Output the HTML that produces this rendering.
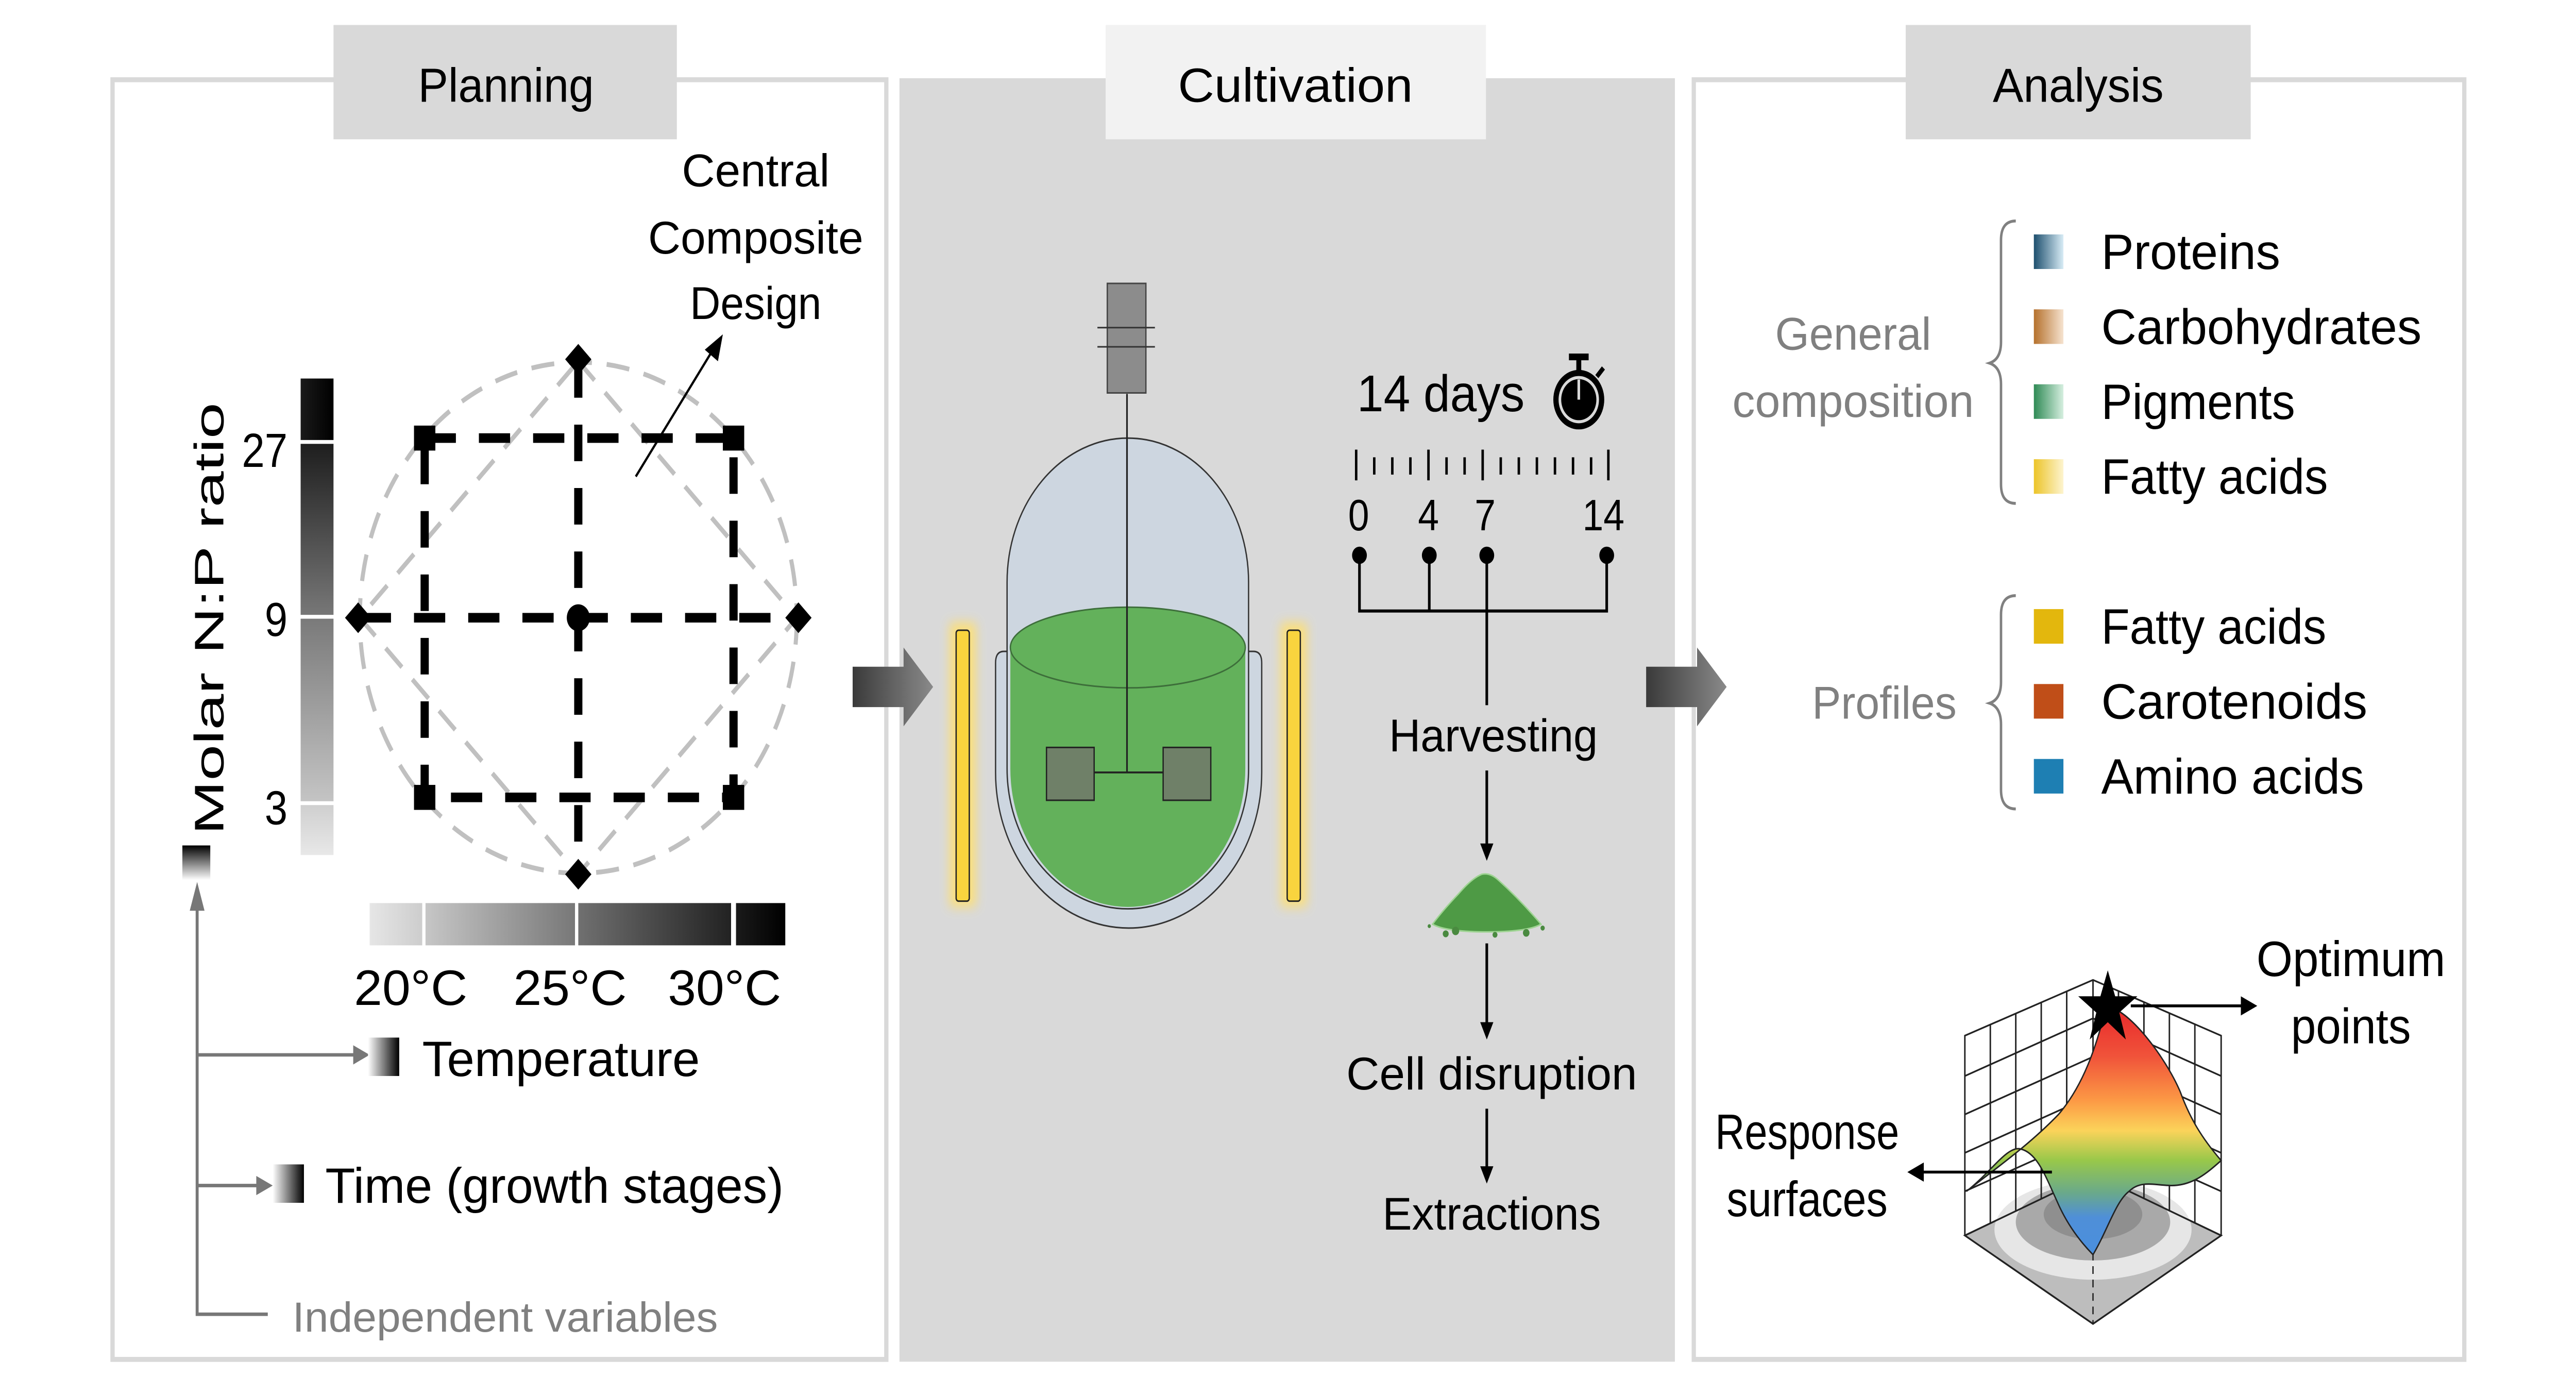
<!DOCTYPE html>
<html><head><meta charset="utf-8"><style>html,body{margin:0;padding:0;background:#fff;overflow:hidden;width:100%;height:100%}svg{display:block;position:fixed;left:0;top:0;width:100vw;height:100vh}text{font-family:"Liberation Sans",sans-serif}</style></head>
<body>
<svg xmlns="http://www.w3.org/2000/svg" viewBox="0 0 1568 725.5" preserveAspectRatio="none">
<defs>
<linearGradient id="gv" x1="0" y1="1" x2="0" y2="0"><stop offset="0" stop-color="#fff"/><stop offset="1" stop-color="#000"/></linearGradient>
<linearGradient id="vb1" x1="0" y1="1" x2="0" y2="0"><stop offset="0" stop-color="#777"/><stop offset="1" stop-color="#1e1e1e"/></linearGradient>
<linearGradient id="vb2" x1="0" y1="1" x2="0" y2="0"><stop offset="0" stop-color="#c4c4c4"/><stop offset="1" stop-color="#7a7a7a"/></linearGradient>
<linearGradient id="vb3" x1="0" y1="1" x2="0" y2="0"><stop offset="0" stop-color="#e8e8e8"/><stop offset="1" stop-color="#cfcfcf"/></linearGradient>
<linearGradient id="hb1" x1="0" x2="1"><stop offset="0" stop-color="#e6e6e6"/><stop offset="1" stop-color="#cdcdcd"/></linearGradient>
<linearGradient id="hb2" x1="0" x2="1"><stop offset="0" stop-color="#c6c6c6"/><stop offset="1" stop-color="#787878"/></linearGradient>
<linearGradient id="hb3" x1="0" x2="1"><stop offset="0" stop-color="#707070"/><stop offset="1" stop-color="#222"/></linearGradient>
<linearGradient id="hb4" x1="0" x2="1"><stop offset="0" stop-color="#1a1a1a"/><stop offset="1" stop-color="#000"/></linearGradient>
<linearGradient id="gh" x1="0" x2="1"><stop offset="0" stop-color="#fff"/><stop offset="1" stop-color="#000"/></linearGradient>
<linearGradient id="ga" x1="0" x2="1"><stop offset="0" stop-color="#3a3a3a"/><stop offset="1" stop-color="#8a8a8a"/></linearGradient>
<linearGradient id="cp" x1="0" x2="1"><stop offset="0" stop-color="#1d4f6e"/><stop offset="1" stop-color="#d8ecf6"/></linearGradient>
<linearGradient id="cc" x1="0" x2="1"><stop offset="0" stop-color="#b5702c"/><stop offset="1" stop-color="#f6e3d0"/></linearGradient>
<linearGradient id="cg" x1="0" x2="1"><stop offset="0" stop-color="#2f8a55"/><stop offset="1" stop-color="#d6efe0"/></linearGradient>
<linearGradient id="cy" x1="0" x2="1"><stop offset="0" stop-color="#ecc428"/><stop offset="1" stop-color="#fdf4cf"/></linearGradient>
<linearGradient id="rs" x1="0" y1="0" x2="0" y2="1"><stop offset="0" stop-color="#e8272b"/><stop offset="0.2" stop-color="#f0533a"/><stop offset="0.38" stop-color="#fc9a45"/><stop offset="0.5" stop-color="#fbd35a"/><stop offset="0.62" stop-color="#98c84a"/><stop offset="0.75" stop-color="#6aa98a"/><stop offset="0.85" stop-color="#4f8fd8"/><stop offset="1" stop-color="#4a8fdd"/></linearGradient>
<filter id="glow" x="-2" y="-0.2" width="5" height="1.4"><feGaussianBlur stdDeviation="3"/></filter>
</defs>

<rect x="68.5" y="41.5" width="471" height="666" fill="none" stroke="#d9d9d9" stroke-width="2.6"/>
<rect x="547.5" y="40.7" width="472" height="668" fill="#d9d9d9"/>
<rect x="1031" y="41.5" width="469" height="666" fill="none" stroke="#d9d9d9" stroke-width="2.6"/>
<rect x="203" y="13" width="209" height="59.5" fill="#d9d9d9"/>
<rect x="673" y="13" width="231.5" height="59.5" fill="#f2f2f2"/>
<rect x="1160" y="13" width="210" height="59.5" fill="#d9d9d9"/>
<text x="308" y="53" font-size="25" text-anchor="middle" textLength="107" lengthAdjust="spacingAndGlyphs">Planning</text>
<text x="788.5" y="53" font-size="25" text-anchor="middle" textLength="143" lengthAdjust="spacingAndGlyphs">Cultivation</text>
<text x="1265" y="53" font-size="25" text-anchor="middle" textLength="104" lengthAdjust="spacingAndGlyphs">Analysis</text>

<path d="M519,347 L550,347 L550,337 L568,357.5 L550,378 L550,368 L519,368 Z" fill="url(#ga)"/>
<path d="M1002,347 L1033,347 L1033,337 L1051,357.5 L1033,378 L1033,368 L1002,368 Z" fill="url(#ga)"/>

<circle cx="352" cy="321.5" r="133" fill="none" stroke="#c0c0c0" stroke-width="2.5" stroke-dasharray="14 9"/>
<path d="M352,188 L485,321.5 L352,455 L219,321.5 Z" fill="none" stroke="#c0c0c0" stroke-width="2.5" stroke-dasharray="14 9"/>
<g stroke="#000" stroke-width="5" stroke-dasharray="19 14" fill="none">
<rect x="258.5" y="228" width="188" height="187"/>
<line x1="219" y1="321.5" x2="485" y2="321.5"/>
<line x1="352" y1="188" x2="352" y2="455"/>
</g>
<g fill="#000">
<rect x="252" y="221.5" width="13" height="13"/><rect x="440" y="221.5" width="13" height="13"/>
<rect x="252" y="408.5" width="13" height="13"/><rect x="440" y="408.5" width="13" height="13"/>
<path d="M352,179 L360,187 L352,195 L344,187 Z"/><path d="M352,447 L360,455 L352,463 L344,455 Z"/>
<path d="M210,321.5 L218,313.5 L226,321.5 L218,329.5 Z"/><path d="M478,321.5 L486,313.5 L494,321.5 L486,329.5 Z"/>
<circle cx="352" cy="321.5" r="7"/>
</g>
<line x1="387" y1="248" x2="434" y2="182" stroke="#000" stroke-width="1.3"/>
<path d="M440,174 L437,188 L429,182 Z" fill="#000"/>
<text x="460" y="97" font-size="24" text-anchor="middle" textLength="90" lengthAdjust="spacingAndGlyphs">Central</text>
<text x="460" y="132" font-size="24" text-anchor="middle" textLength="131" lengthAdjust="spacingAndGlyphs">Composite</text>
<text x="460" y="166" font-size="24" text-anchor="middle" textLength="80" lengthAdjust="spacingAndGlyphs">Design</text>

<rect x="183" y="197" width="20" height="32" fill="url(#hb4)"/>
<rect x="183" y="231" width="20" height="89" fill="url(#vb1)"/>
<rect x="183" y="322" width="20" height="95" fill="url(#vb2)"/>
<rect x="183" y="419" width="20" height="26" fill="url(#vb3)"/>
<text x="175" y="243" font-size="25" text-anchor="end">27</text>
<text x="175" y="331" font-size="25" text-anchor="end">9</text>
<text x="175" y="429" font-size="25" text-anchor="end">3</text>
<text transform="translate(136,322) rotate(-90)" font-size="25" text-anchor="middle" textLength="225" lengthAdjust="spacingAndGlyphs">Molar N:P ratio</text>
<rect x="111" y="440" width="17" height="18" fill="url(#gv)"/>

<rect x="225" y="470" width="32" height="22" fill="url(#hb1)"/>
<rect x="259" y="470" width="91" height="22" fill="url(#hb2)"/>
<rect x="352" y="470" width="93" height="22" fill="url(#hb3)"/>
<rect x="448" y="470" width="30" height="22" fill="url(#hb4)"/>
<text x="250" y="523" font-size="26" text-anchor="middle" textLength="69" lengthAdjust="spacingAndGlyphs">20°C</text>
<text x="347" y="523" font-size="26" text-anchor="middle" textLength="69" lengthAdjust="spacingAndGlyphs">25°C</text>
<text x="441" y="523" font-size="26" text-anchor="middle" textLength="69" lengthAdjust="spacingAndGlyphs">30°C</text>

<g stroke="#777" stroke-width="1.8" fill="none">
<path d="M120,470 L120,684 L163,684"/>
<line x1="120" y1="549" x2="216" y2="549"/>
<line x1="120" y1="617" x2="158" y2="617"/>
</g>
<g fill="#777">
<path d="M120,459 L115.5,474 L124.5,474 Z"/>
<path d="M225,549 L215,544 L215,554 Z"/>
<path d="M166,617 L156,612 L156,622 Z"/>
</g>
<rect x="224" y="540" width="19" height="20" fill="url(#gh)"/>
<text x="257" y="560" font-size="26" textLength="169" lengthAdjust="spacingAndGlyphs">Temperature</text>
<rect x="166" y="606" width="19" height="20" fill="url(#gh)"/>
<text x="198" y="626" font-size="26" textLength="279" lengthAdjust="spacingAndGlyphs">Time (growth stages)</text>
<text x="178" y="693" font-size="22" fill="#808080" textLength="259" lengthAdjust="spacingAndGlyphs">Independent variables</text>

<rect x="578" y="324" width="16" height="148" fill="#ffe070" filter="url(#glow)" opacity="0.9"/>
<rect x="779.5" y="324" width="16" height="148" fill="#ffe070" filter="url(#glow)" opacity="0.9"/>
<rect x="582" y="328" width="8" height="141" rx="1.5" fill="#f9d43e" stroke="#222" stroke-width="0.8"/>
<rect x="783.5" y="328" width="8" height="141" rx="1.5" fill="#f9d43e" stroke="#222" stroke-width="0.8"/>
<path d="M606,345 Q606,339 611,339 L615,339 L615,400 A70,70 0 0 0 758,400 L758,339 L763,339 Q768,339 768,345 L768,402 A81,81 0 0 1 606,402 Z" fill="#cdd6e0" stroke="#333" stroke-width="0.8"/>
<path d="M613,303 A73.5,75 0 0 1 760,303 L760,400 A73.5,73 0 0 1 613,400 Z" fill="#cdd6e0" stroke="#333" stroke-width="0.8"/>
<path d="M615,337 L758,337 L758,400 A71.5,72 0 0 1 615,400 Z" fill="#63b15b"/>
<ellipse cx="686.5" cy="337" rx="71.5" ry="21" fill="#63b15b" stroke="#3d6e3a" stroke-width="0.8"/>
<line x1="686" y1="205" x2="686" y2="402" stroke="#222" stroke-width="1"/>
<line x1="666" y1="402" x2="708" y2="402" stroke="#222" stroke-width="1"/>
<rect x="637" y="389" width="29" height="27.5" fill="#6f8068" stroke="#222" stroke-width="0.8"/>
<rect x="708" y="389" width="29" height="27.5" fill="#6f8068" stroke="#222" stroke-width="0.8"/>
<rect x="674" y="147.5" width="23.5" height="57" fill="#8c8c8c" stroke="#444" stroke-width="0.8"/>
<line x1="668" y1="170.5" x2="703" y2="170.5" stroke="#333" stroke-width="0.8"/>
<line x1="668" y1="180.5" x2="703" y2="180.5" stroke="#333" stroke-width="0.8"/>

<text x="826" y="214" font-size="27" textLength="102" lengthAdjust="spacingAndGlyphs">14 days</text>
<g>
<circle cx="961" cy="208" r="15.5" fill="#000"/>
<circle cx="961" cy="208" r="11.5" fill="none" stroke="#d9d9d9" stroke-width="1.6"/>
<line x1="961" y1="197.5" x2="961" y2="208" stroke="#d9d9d9" stroke-width="1.6"/>
<rect x="955" y="184" width="12" height="3.5" fill="#000"/>
<rect x="959.5" y="186" width="3" height="7" fill="#000"/>
<line x1="972" y1="196" x2="976" y2="191.5" stroke="#000" stroke-width="2.5"/>
</g>
<g stroke="#000" stroke-width="1.5">
<line x1="825.5" y1="234" x2="825.5" y2="250"/>
<line x1="836.5" y1="238" x2="836.5" y2="247"/>
<line x1="847.5" y1="238" x2="847.5" y2="247"/>
<line x1="858.5" y1="238" x2="858.5" y2="247"/>
<line x1="869.5" y1="234" x2="869.5" y2="250"/>
<line x1="880.5" y1="238" x2="880.5" y2="247"/>
<line x1="891.5" y1="238" x2="891.5" y2="247"/>
<line x1="902.5" y1="234" x2="902.5" y2="250"/>
<line x1="913.5" y1="238" x2="913.5" y2="247"/>
<line x1="924.5" y1="238" x2="924.5" y2="247"/>
<line x1="935.5" y1="238" x2="935.5" y2="247"/>
<line x1="946.5" y1="238" x2="946.5" y2="247"/>
<line x1="957.5" y1="238" x2="957.5" y2="247"/>
<line x1="968.5" y1="238" x2="968.5" y2="247"/>
<line x1="979" y1="234" x2="979" y2="250"/>
</g>
<text x="827" y="276" font-size="23" text-anchor="middle">0</text>
<text x="869.5" y="276" font-size="23" text-anchor="middle">4</text>
<text x="904" y="276" font-size="23" text-anchor="middle">7</text>
<text x="976" y="276" font-size="23" text-anchor="middle">14</text>
<g fill="#000"><circle cx="827.5" cy="289" r="4.5"/><circle cx="870" cy="289" r="4.5"/><circle cx="905" cy="289" r="4.5"/><circle cx="978" cy="289" r="4.5"/></g>
<g stroke="#000" stroke-width="1.6" fill="none">
<path d="M827.5,289 L827.5,318 L978,318 L978,289"/>
<line x1="870" y1="289" x2="870" y2="318"/>
<line x1="905" y1="289" x2="905" y2="367"/>
<line x1="905" y1="401" x2="905" y2="440"/>
<line x1="905" y1="491" x2="905" y2="532"/>
<line x1="905" y1="577" x2="905" y2="608"/>
</g>
<g fill="#000">
<path d="M905,448 L901,439 L909,439 Z"/>
<path d="M905,541 L901,532 L909,532 Z"/>
<path d="M905,616 L901,607 L909,607 Z"/>
</g>
<text x="909" y="391" font-size="24" text-anchor="middle" textLength="127" lengthAdjust="spacingAndGlyphs">Harvesting</text>
<text x="908" y="567" font-size="24" text-anchor="middle" textLength="177" lengthAdjust="spacingAndGlyphs">Cell disruption</text>
<text x="908" y="640" font-size="24" text-anchor="middle" textLength="133" lengthAdjust="spacingAndGlyphs">Extractions</text>
<path d="M872,481 Q878,474 888,465 Q896,457 902,455 Q907,454 912,458 Q925,468 938,481 Q930,485 905,485 Q880,485 872,481 Z" fill="#4e9a45" stroke="#9fd493" stroke-width="0.8"/>
<g fill="#4a8a40"><circle cx="880" cy="486" r="1.8"/><circle cx="886" cy="484.5" r="2.2"/><circle cx="910" cy="486.5" r="1.5"/><circle cx="929" cy="485.5" r="2"/><circle cx="939" cy="483" r="1.3"/><circle cx="870" cy="482" r="1"/></g>

<text x="1128" y="182" font-size="24" fill="#808080" text-anchor="middle" textLength="95" lengthAdjust="spacingAndGlyphs">General</text>
<text x="1128" y="217" font-size="24" fill="#808080" text-anchor="middle" textLength="147" lengthAdjust="spacingAndGlyphs">composition</text>
<text x="1147" y="374" font-size="24" fill="#808080" text-anchor="middle" textLength="88" lengthAdjust="spacingAndGlyphs">Profiles</text>
<g fill="none" stroke="#808080" stroke-width="1.5">
<path d="M1227,115 Q1218,115 1218,125 L1218,178 Q1218,187 1211,189 Q1218,191 1218,200 L1218,252 Q1218,262 1227,262"/>
<path d="M1227,310 Q1218,310 1218,320 L1218,355 Q1218,364 1211,366 Q1218,368 1218,377 L1218,411 Q1218,421 1227,421"/>
</g>
<rect x="1238" y="122" width="18" height="18" fill="url(#cp)"/>
<rect x="1238" y="161" width="18" height="18" fill="url(#cc)"/>
<rect x="1238" y="200" width="18" height="18" fill="url(#cg)"/>
<rect x="1238" y="239" width="18" height="18" fill="url(#cy)"/>
<rect x="1238" y="317" width="18" height="18" fill="#e3b70d"/>
<rect x="1238" y="356" width="18" height="18" fill="#c04e18"/>
<rect x="1238" y="395" width="18" height="18" fill="#1e7fb3"/>
<g font-size="26">
<text x="1279" y="140" textLength="109" lengthAdjust="spacingAndGlyphs">Proteins</text>
<text x="1279" y="179" textLength="195" lengthAdjust="spacingAndGlyphs">Carbohydrates</text>
<text x="1279" y="218" textLength="118" lengthAdjust="spacingAndGlyphs">Pigments</text>
<text x="1279" y="257" textLength="138" lengthAdjust="spacingAndGlyphs">Fatty acids</text>
<text x="1279" y="335" textLength="137" lengthAdjust="spacingAndGlyphs">Fatty acids</text>
<text x="1279" y="374" textLength="162" lengthAdjust="spacingAndGlyphs">Carotenoids</text>
<text x="1279" y="413" textLength="160" lengthAdjust="spacingAndGlyphs">Amino acids</text>
</g>

<path d="M1196,643 L1274,611 L1352,643 L1274,689 Z" fill="#bdbdbd" stroke="#222" stroke-width="0.9"/>
<ellipse cx="1274" cy="640" rx="60" ry="26" fill="#e6e6e6"/>
<ellipse cx="1274" cy="636" rx="47" ry="20" fill="#a9a9a9"/>
<ellipse cx="1274" cy="632" rx="30" ry="13" fill="#8f8f8f"/>
<path d="M1196,643 L1274,611 L1352,643 L1274,689 Z" fill="none" stroke="#222" stroke-width="0.9"/>
<g stroke="#222" stroke-width="0.9" fill="none">
<path d="M1196,643 L1196,539 L1274,510 L1352,539 L1352,643"/>
<line x1="1274" y1="510" x2="1274" y2="611"/>
<line x1="1211.5" y1="533" x2="1211.5" y2="636.5"/><line x1="1227" y1="527.5" x2="1227" y2="630"/><line x1="1242.5" y1="521.5" x2="1242.5" y2="624"/><line x1="1258" y1="516" x2="1258" y2="617.5"/>
<line x1="1289.5" y1="516" x2="1289.5" y2="617.5"/><line x1="1305" y1="521.5" x2="1305" y2="624"/><line x1="1320.5" y1="527.5" x2="1320.5" y2="630"/><line x1="1336" y1="533" x2="1336" y2="636.5"/>
<line x1="1196" y1="560" x2="1274" y2="530"/><line x1="1196" y1="580" x2="1274" y2="550"/><line x1="1196" y1="600" x2="1274" y2="570"/><line x1="1196" y1="620" x2="1274" y2="590"/>
<line x1="1274" y1="530" x2="1352" y2="560"/><line x1="1274" y1="550" x2="1352" y2="580"/><line x1="1274" y1="570" x2="1352" y2="600"/><line x1="1274" y1="590" x2="1352" y2="620"/>
</g>
<line x1="1274" y1="652" x2="1274" y2="689" stroke="#222" stroke-width="0.8" stroke-dasharray="4 3"/>
<path d="M1282,524 C1276,545 1268,565 1253,580 C1235,596 1215,608 1197,620 C1212,610 1222,596 1230,598 C1240,600 1245,612 1252,625 C1258,637 1266,646 1274,653 C1283,640 1288,625 1296,620 C1303,614 1312,617 1322,617 C1335,617 1344,610 1352,604 C1340,592 1333,582 1327,568 C1318,550 1295,524 1282,524 Z" fill="url(#rs)" stroke="#222" stroke-width="0.8"/>
<path d="M1283,505 L1287.5,518.5 L1301,518.5 L1290,527 L1294,541 L1283,532 L1272,541 L1276,527 L1265,518.5 L1278.5,518.5 Z" fill="#000"/>
<line x1="1297" y1="523.5" x2="1365" y2="523.5" stroke="#000" stroke-width="1.5"/>
<path d="M1374,523.5 L1364,518.5 L1364,528.5 Z" fill="#000"/>
<line x1="1170" y1="610" x2="1249" y2="610" stroke="#000" stroke-width="1.5"/>
<path d="M1161,610 L1171,605 L1171,615 Z" fill="#000"/>
<text x="1431" y="508" font-size="26" text-anchor="middle" textLength="115" lengthAdjust="spacingAndGlyphs">Optimum</text>
<text x="1431" y="543" font-size="26" text-anchor="middle" textLength="73" lengthAdjust="spacingAndGlyphs">points</text>
<text x="1100" y="598" font-size="26" text-anchor="middle" textLength="112" lengthAdjust="spacingAndGlyphs">Response</text>
<text x="1100" y="633" font-size="26" text-anchor="middle" textLength="98" lengthAdjust="spacingAndGlyphs">surfaces</text>
</svg>
</body></html>
